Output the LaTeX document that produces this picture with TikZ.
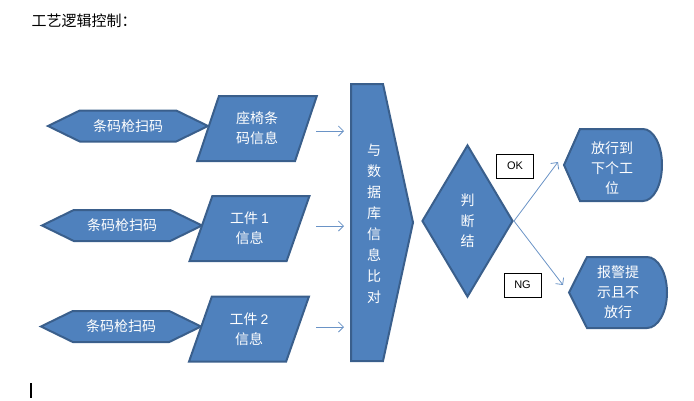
\documentclass[tikz,border=0pt]{standalone}
\usepackage{fontspec}
\setmainfont{Liberation Sans}
\newfontfamily\cjk{Noto Sans CJK SC}
\usetikzlibrary{shapes.geometric,shapes.symbols,arrows.meta,positioning}
\definecolor{boxblue}{HTML}{4F81BD}
\definecolor{boxline}{HTML}{3A5F8C}
\definecolor{arrowblue}{HTML}{6A93C6}
\tikzset{
  blk/.style={fill=boxblue, draw=boxline, line width=2pt, text=white, inner sep=0pt,
    font=\cjk\fontsize{14}{20}\selectfont, align=center},
  lbl/.style={text=white, inner sep=0pt, font=\cjk\fontsize{14}{20}\selectfont, align=center},
  scan/.style={blk, signal, signal to=west and east, signal pointer angle=52,
    minimum width=160pt, minimum height=31pt},
  info/.style={blk, trapezium, trapezium left angle=70, trapezium right angle=110,
    trapezium stretches=true, minimum width=120pt, minimum height=65pt},
  tag/.style={draw=black, line width=0.8pt, fill=white, font=\fontsize{11}{11}\selectfont,
    minimum width=37pt, minimum height=24pt, inner sep=0pt},
  arr/.style={draw=arrowblue, line width=0.8pt, -{Straight Barb[length=5pt,width=10pt]}}
}

\begin{document}
\begin{tikzpicture}[x=1pt,y=-1pt]
\useasboundingbox (0,0) rectangle (694,400);
\node[anchor=west, font=\cjk\fontsize{15}{15}\selectfont] (title) at (28,21) {工艺逻辑控制：};
% scanners
\node[scan] (s1) at (128,126) {条码枪扫码};
\node[scan] (s2) at (122,225.5) {条码枪扫码};
\node[scan] (s3) at (121,326.5) {条码枪扫码};
% info
\node[info] (i1) at (257,128.5) {座椅条\\码信息};
\node[info] (i2) at (249.5,228.5) {工件 {\fontspec{Liberation Sans}1}\\信息};
\node[info] (i3) at (249,329) {工件 {\fontspec{Liberation Sans}2}\\信息};
% compare
\path[blk] (351,84) -- (383,84) -- (413,222.5) -- (383,361) -- (351,361) -- cycle;
\node[lbl, font=\cjk\fontsize{14}{21}\selectfont] (cmp) at (374,223.5)
  {与\\数\\据\\库\\信\\息\\比\\对};
\node[blk, diamond, minimum width=91pt, minimum height=152pt,
  font=\cjk\fontsize{14}{20.5}\selectfont] (judge) at (467.5,221) {判\\断\\结};
% results
\path[blk] (564,165) -- (580,129) -- (643,129)
  arc[start angle=-90, end angle=90, x radius=19, y radius=36] -- (580,201) -- cycle;
\node[lbl] (go) at (612,168) {放行到\\下个工\\位};
\path[blk] (569,292.5) -- (587,257) -- (647,257)
  arc[start angle=-90, end angle=90, x radius=20, y radius=35.5] -- (587,328) -- cycle;
\node[lbl] (stop) at (618,292) {报警提\\示且不\\放行};
\node[tag] (ok) at (515,166) {OK};
\node[tag] (ng) at (522.5,285) {NG};
% arrows
\coordinate (a1) at (316,131);
\coordinate (b1) at (344,131);
\coordinate (a2) at (316,226);
\coordinate (b2) at (344,226);
\coordinate (a3) at (316,327);
\coordinate (b3) at (344,327);
\coordinate (c1) at (558,162);
\coordinate (c2) at (563,285);
\draw[arr] (a1) -- (b1);
\draw[arr] (a2) -- (b2);
\draw[arr] (a3) -- (b3);
\draw[arr] (judge.east) -- (c1);
\draw[arr] (judge.east) -- (c2);
\coordinate (k1) at (31,383);
\coordinate (k2) at (31,398);
\draw[line width=1.3pt] (k1) -- (k2);
\end{tikzpicture}
\end{document}
